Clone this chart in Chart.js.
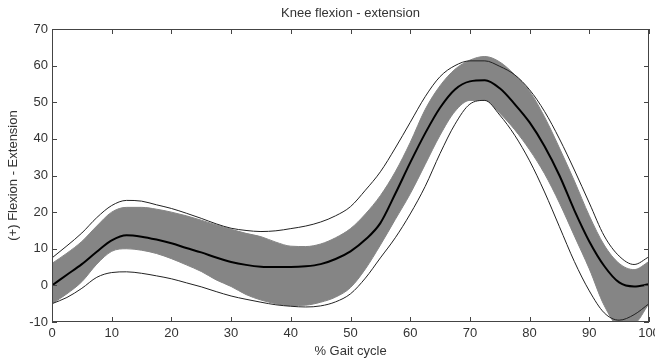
<!DOCTYPE html>
<html>
<head>
<meta charset="utf-8">
<title>Knee flexion - extension</title>
<script src="https://cdn.jsdelivr.net/npm/chart.js@4/dist/chart.umd.min.js"></script>
<style>
  html, body { margin: 0; padding: 0; background: #fff; }
  #wrap { width: 655px; height: 359px; }
</style>
</head>
<body>
<div id="wrap"><canvas id="kneeChart" width="655" height="359"></canvas></div>
<script>
// % of gait cycle
const gaitPct = [0, 2.5, 5, 7.5, 10, 12.5, 15, 17.5, 20, 22.5, 25, 27.5, 30, 32.5, 35, 37.5, 40, 42.5, 45, 47.5,
  50, 52.5, 55, 57.5, 60, 62.5, 65, 67.5, 70, 72.5, 75, 77.5, 80, 82.5, 85, 87.5, 90, 92.5, 95, 97.5, 100];

// mean knee angle (thick black line)
const meanAngle = [0, 2.9, 5.8, 9.2, 12.3, 13.7, 13.3, 12.5, 11.5, 10.2, 9, 7.6, 6.4, 5.6, 5.1, 5, 5, 5.2, 5.8, 7.2,
  9.3, 12.5, 17, 25, 33.5, 41.5, 48.5, 53.5, 55.7, 56, 53.8, 49.5, 44.5, 38, 30, 20.5, 12, 5.3, 0.8, -0.3, 0.3];

// grey band (+/- 1 SD)
const sdUpper = [6, 8.8, 12, 16.2, 20, 21.3, 21.3, 20.8, 20, 19, 17.8, 16.5, 15.3, 14.2, 13.3, 11.8, 10.7, 10.6, 11.3, 13,
  15.5, 19.5, 24.5, 31, 39, 48, 54.5, 59, 61.5, 62.5, 61, 57.5, 53, 46, 37.5, 28.5, 19, 11, 6, 4.3, 6.5];
const sdLower = [-5, -2.3, 1, 5.8, 9.3, 10, 9.6, 8.7, 7.3, 5.6, 3.8, 1.5, -0.3, -2.5, -4, -5, -5.5, -5.4, -4.6, -3.2,
  -0.6, 4.5, 11, 18, 25, 33, 41, 47.5, 50.5, 50.5, 47, 42.5, 37, 30.5, 22.5, 13.5, 4.5, -5.5, -11, -10.5, -5];

// thin reference lines
const normUpper = [7.5, 10.8, 14.3, 18.5, 21.8, 23.2, 23, 22, 21, 19.7, 18.3, 16.8, 15.6, 15, 14.7, 14.9, 15.5, 16.2, 17.3, 19,
  21.5, 26, 31, 37.5, 44.5, 51.5, 57, 60, 61.3, 61.3, 59.8, 57.5, 53.4, 47.5, 40, 31.5, 22.5, 13.5, 8, 5.7, 7.8];
const normLower = [-5, -3.3, -0.8, 2.2, 3.5, 3.7, 3.3, 2.6, 1.8, 0.7, -0.4, -1.7, -2.9, -3.8, -4.6, -5.3, -5.7, -5.9, -5.6, -4.5,
  -2.3, 2, 7.5, 13, 19.5, 27, 36, 44, 49.5, 50.5, 46.5, 41, 34, 25.5, 16, 6.5, -1.5, -7.5, -9.5, -8, -5];

const xRange = [0, 100];
const yRange = [-10, 70];
const tickStep = 10;

const FONT = '"Liberation Sans", Arial, sans-serif';

function toPoints(values) {
  return gaitPct.map((x, i) => ({ x: x, y: values[i] }));
}

// box around the plot with inward tick marks on all four sides (matlab style)
const framePlugin = {
  id: 'frame',
  afterDraw(chart) {
    const { ctx, chartArea: a, scales } = chart;
    const len = 5;
    ctx.save();
    ctx.strokeStyle = '#444';
    ctx.lineWidth = 1;
    ctx.strokeRect(Math.round(a.left) + 0.5, Math.round(a.top) + 0.5,
      Math.round(a.right - a.left) - 1, Math.round(a.bottom - a.top) - 1);
    ctx.beginPath();
    scales.x.ticks.forEach(t => {
      const px = Math.round(scales.x.getPixelForValue(t.value)) + 0.5;
      ctx.moveTo(px, a.bottom); ctx.lineTo(px, a.bottom - len);
      ctx.moveTo(px, a.top); ctx.lineTo(px, a.top + len);
    });
    scales.y.ticks.forEach(t => {
      const py = Math.round(scales.y.getPixelForValue(t.value)) + 0.5;
      ctx.moveTo(a.left, py); ctx.lineTo(a.left + len, py);
      ctx.moveTo(a.right, py); ctx.lineTo(a.right - len, py);
    });
    ctx.stroke();
    ctx.restore();
  }
};

const lineBase = {
  pointRadius: 0,
  cubicInterpolationMode: 'monotone',
  fill: false
};

new Chart(document.getElementById('kneeChart'), {
  type: 'line',
  data: {
    datasets: [
      Object.assign({}, lineBase, { label: 'Mean', data: toPoints(meanAngle), borderColor: '#000', borderWidth: 2, order: 0 }),
      Object.assign({}, lineBase, { label: 'Upper', data: toPoints(normUpper), borderColor: '#222', borderWidth: 1, order: 1 }),
      Object.assign({}, lineBase, { label: 'Lower', data: toPoints(normLower), borderColor: '#222', borderWidth: 1, order: 1 }),
      Object.assign({}, lineBase, { label: '+SD', data: toPoints(sdUpper), borderColor: '#858585', backgroundColor: '#858585',
        borderWidth: 1, fill: '+1', order: 2 }),
      Object.assign({}, lineBase, { label: '-SD', data: toPoints(sdLower), borderColor: '#858585', borderWidth: 1, order: 2 })
    ]
  },
  options: {
    responsive: false,
    animation: false,
    layout: { padding: { left: 0, right: 6, top: 0, bottom: 0 } },
    plugins: {
      legend: { display: false },
      tooltip: { enabled: false },
      title: {
        display: true,
        text: 'Knee flexion - extension',
        fullSize: false,
        color: '#333',
        font: { family: FONT, size: 13, weight: 'normal' },
        padding: { top: 6, bottom: 7.4 }
      }
    },
    scales: {
      x: {
        type: 'linear',
        min: xRange[0],
        max: xRange[1],
        grid: { display: false, drawTicks: false },
        border: { display: false },
        ticks: { stepSize: tickStep, color: '#333', padding: 4, font: { family: FONT, size: 13 } },
        title: { display: true, text: '% Gait cycle', color: '#333', font: { family: FONT, size: 13 }, padding: { top: 0, bottom: 0 } },
        afterFit(scale) {
          scale.height = 37;
          scale.paddingLeft = 0;
          scale.paddingRight = 0;
        }
      },
      y: {
        min: yRange[0],
        max: yRange[1],
        grid: { display: false, drawTicks: false },
        border: { display: false },
        ticks: { stepSize: tickStep, color: '#333', padding: 4, font: { family: FONT, size: 13 } },
        title: { display: true, text: '(+) Flexion - Extension', color: '#333', font: { family: FONT, size: 13 }, padding: { top: 6, bottom: 0 } },
        afterFit(scale) {
          scale.width = 52;
          scale.paddingTop = 0;
          scale.paddingBottom = 0;
        }
      }
    }
  },
  plugins: [framePlugin]
});
</script>
</body>
</html>
